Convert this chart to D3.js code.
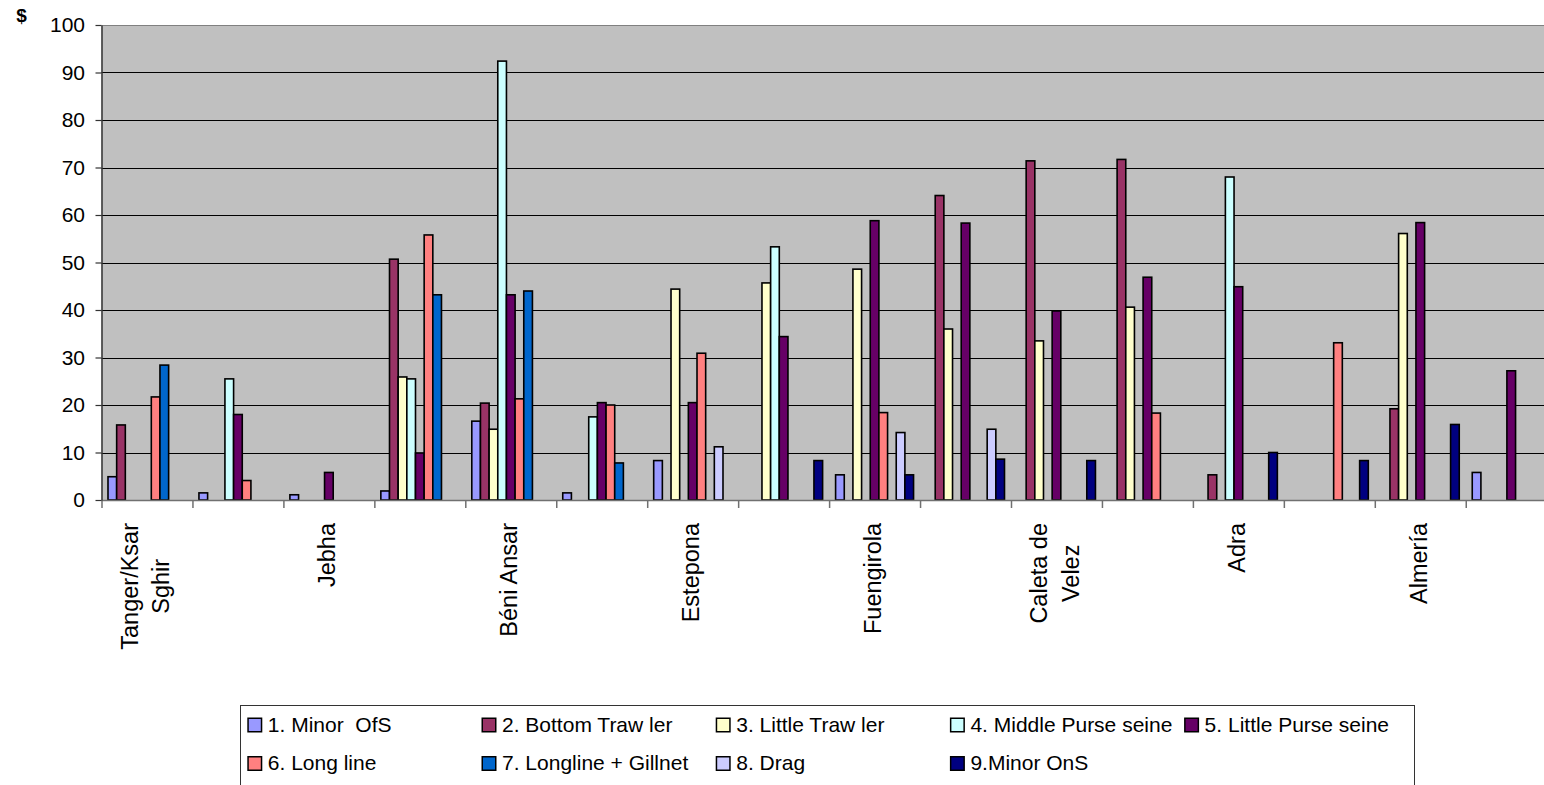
<!DOCTYPE html>
<html>
<head>
<meta charset="utf-8">
<script src="https://cdn.jsdelivr.net/npm/d3@7"></script>
<style>
  html, body { margin: 0; padding: 0; background: #fff; overflow: hidden; }
  svg { display: block; font-family: "Liberation Sans", Arial, sans-serif; }
</style>
</head>
<body>
<svg id="chart" width="1544" height="785"></svg>
<script>
// Ports along the strait (every other axis label is shown, as in the printed chart)
const categoryLabels = [
  "Tanger/Ksar\nSghir", "", "Jebha", "", "Béni Ansar", "", "Estepona", "",
  "Fuengirola", "", "Caleta de\nVelez", "", "Adra", "", "Almería", ""
];

const seriesNames = [
  "1. Minor  OfS", "2. Bottom Traw ler", "3. Little Traw ler", "4. Middle Purse seine",
  "5. Little Purse seine", "6. Long line", "7. Longline + Gillnet", "8. Drag", "9.Minor OnS"
];

const seriesColors = [
  "#9999FF", "#993366", "#FFFFCC", "#CCFFFF", "#660066",
  "#FF8080", "#0066CC", "#CCCCFF", "#000080"
];

// Values in $ per port (null = no fleet of that type)
const minorOfS        = [4.9, 1.5, 1.1, 1.9, 16.6, 1.5, 8.3, null, 5.3, null, null, null, null, null, null, 5.8];
const bottomTrawler   = [15.8, null, null, 50.7, 20.4, null, null, null, null, 64.1, 71.4, 71.7, 5.3, null, 19.2, null];
const littleTrawler   = [null, null, null, 25.9, 14.9, null, 44.4, 45.7, 48.6, 36.0, 33.5, 40.6, null, null, 56.1, null];
const middlePurse     = [null, 25.5, null, 25.5, 92.4, 17.5, null, 53.3, null, null, null, null, 68.0, null, null, null];
const littlePurse     = [null, 18.0, 5.8, 9.9, 43.2, 20.5, 20.5, 34.4, 58.8, 58.3, 39.8, 46.9, 44.9, null, 58.4, 27.2];
const longLine        = [21.7, 4.1, null, 55.8, 21.3, 20.0, 30.9, null, 18.4, null, null, 18.3, null, 33.1, null, null];
const longlineGillnet = [28.4, null, null, 43.2, 44.0, 7.8, null, null, null, null, null, null, null, null, null, null];
const drag            = [null, null, null, null, null, null, 11.2, null, 14.2, 14.9, null, null, null, null, null, null];
const minorOnS        = [null, null, null, null, null, null, null, 8.3, 5.3, 8.6, 8.3, null, 10.0, 8.3, 15.9, null];

const yTicks = [0, 10, 20, 30, 40, 50, 60, 70, 80, 90, 100];

const seriesValues = [minorOfS, bottomTrawler, littleTrawler, middlePurse, littlePurse,
                      longLine, longlineGillnet, drag, minorOnS];

const svg = d3.select("#chart");

const plotLeft = 101.5, plotTop = 25, plotBottom = 500, catWidth = 90.95;
const plotRight = plotLeft + catWidth * categoryLabels.length;

const x = d3.scaleBand()
  .domain(d3.range(categoryLabels.length))
  .range([plotLeft, plotRight])
  .padding(0);

const xs = d3.scaleBand()
  .domain(d3.range(seriesNames.length))
  .range([0, x.bandwidth()])
  .paddingInner(0)
  .paddingOuter(0.75);

const y = d3.scaleLinear().domain([0, 100]).range([plotBottom, plotTop]);

// category boundaries for the tick marks
const xEdge = d3.scaleLinear().domain([0, categoryLabels.length]).range([plotLeft, plotRight]);

// plot area
svg.append("rect")
  .attr("x", plotLeft).attr("y", plotTop)
  .attr("width", plotRight - plotLeft).attr("height", plotBottom - plotTop)
  .attr("fill", "#C0C0C0");

// gridlines
svg.append("g")
  .selectAll("line")
  .data(yTicks.filter(t => t > 0))
  .join("line")
  .attr("x1", plotLeft).attr("x2", plotRight)
  .attr("y1", d => Math.round(y(d)) + 0.5).attr("y2", d => Math.round(y(d)) + 0.5)
  .attr("stroke", d => d === 100 ? "#808080" : "#000")
  .attr("stroke-width", 1);

// bars
const barData = [];
seriesValues.forEach((vals, s) => {
  vals.forEach((v, c) => {
    if (v !== null) barData.push({ s, c, v });
  });
});

svg.append("g")
  .selectAll("rect")
  .data(barData)
  .join("rect")
  .attr("x", d => x(d.c) + xs(d.s))
  .attr("y", d => y(d.v))
  .attr("width", xs.bandwidth())
  .attr("height", d => y(0) - y(d.v))
  .attr("fill", d => seriesColors[d.s])
  .attr("stroke", "#000")
  .attr("stroke-width", 1.6);

// x axis (tick marks between categories)
const xAxis = svg.append("g")
  .attr("transform", `translate(0,${plotBottom})`)
  .call(d3.axisBottom(xEdge).tickValues(d3.range(categoryLabels.length + 1)).tickSize(8).tickSizeOuter(0).tickFormat(""));
xAxis.select(".domain").attr("stroke", "#707070").attr("stroke-width", 1.5);
xAxis.selectAll(".tick line").attr("stroke", "#707070").attr("stroke-width", 1.5);

// y axis
const yAxis = svg.append("g")
  .attr("transform", `translate(${plotLeft},0)`)
  .call(d3.axisLeft(y).tickValues(yTicks).tickSize(6).tickSizeOuter(0).tickPadding(10.5));
yAxis.select(".domain").attr("stroke", "#333").attr("stroke-width", 1.5);
yAxis.selectAll(".tick line").attr("stroke", "#333").attr("stroke-width", 1.2);
yAxis.selectAll(".tick text")
  .attr("font-size", 21)
  .attr("font-family", "Liberation Sans, Arial, sans-serif")
  .attr("fill", "#000");

// unit label
svg.append("text")
  .attr("x", 21.5).attr("y", 21.5)
  .attr("text-anchor", "middle")
  .attr("font-size", 19).attr("font-weight", "bold")
  .text("$");

// rotated category labels
const labelTop = 523, lineGap = 31.5, labelSize = 23.5;
const labelLayer = svg.append("g");
categoryLabels.forEach((lab, c) => {
  if (!lab) return;
  const lines = lab.split("\n");
  const cx = x(c) + x.bandwidth() / 2;
  const nodes = lines.map(t => labelLayer.append("text")
    .attr("font-size", labelSize)
    .attr("text-anchor", "middle")
    .attr("fill", "#000")
    .text(t));
  const maxLen = d3.max(nodes, n => n.node().getComputedTextLength());
  const cy = labelTop + maxLen / 2;
  nodes.forEach((n, i) => {
    const bx = cx + 6.5 + (i - (lines.length - 1) / 2) * lineGap;
    n.attr("transform", `translate(${bx},${cy}) rotate(-90)`);
  });
});

// legend
const legX = 240, legY = 705, legW = 1174, legH = 120;
const legend = svg.append("g");
legend.append("rect")
  .attr("x", legX + 0.5).attr("y", legY + 0.5)
  .attr("width", legW).attr("height", legH)
  .attr("fill", "#fff").attr("stroke", "#333").attr("stroke-width", 1);

const colStep = 234.2, rowStep = 38.5, perRow = 5;
const items = legend.selectAll("g.item")
  .data(seriesNames.map((name, i) => ({ name, i })))
  .join("g")
  .attr("class", "item")
  .attr("transform", d => {
    const col = d.i % perRow, row = Math.floor(d.i / perRow);
    return `translate(${247.3 + col * colStep},${725 + row * rowStep})`;
  });

items.append("rect")
  .attr("x", 0.75).attr("y", -6.75)
  .attr("width", 13.5).attr("height", 13.5)
  .attr("fill", d => seriesColors[d.i])
  .attr("stroke", "#000").attr("stroke-width", 1.5);

items.append("text")
  .attr("x", 20.5).attr("y", 6.5)
  .attr("font-size", 21)
  .attr("fill", "#000")
  .style("white-space", "pre")
  .text(d => d.name);
</script>
</body>
</html>
